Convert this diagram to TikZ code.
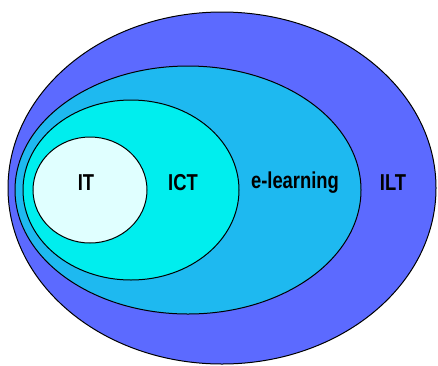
\documentclass[tikz,border=0pt]{standalone}
\usepackage{fontspec}
\setmainfont{Liberation Sans}
\definecolor{iltblue}{RGB}{92,106,255}
\definecolor{elearnblue}{RGB}{30,185,240}
\definecolor{ictcyan}{RGB}{0,238,238}
\definecolor{itcyan}{RGB}{224,255,255}
\tikzset{setlabel/.style={font=\bfseries\fontsize{23}{23}\selectfont, inner sep=0pt}}
\newcommand{\setname}[1]{\scalebox{0.8}[1]{#1}}

\begin{document}
\begin{tikzpicture}[x=1pt, y=-1pt]
			\useasboundingbox (0, 0) rectangle (438, 365);
			%%%%% START %%%%%
			
			\draw[line width=1pt, fill=iltblue] (222, 188) ellipse (214 and 176);
			\draw[line width=1pt, fill=elearnblue] (188, 190) ellipse (173 and 124);
			\draw[line width=1pt, fill=ictcyan] (131, 190) ellipse (108 and 90);
			\draw[line width=1pt, fill=itcyan] (90, 190) ellipse (57 and 53);
			
			\node[setlabel] (it) at (86, 183) {\setname{IT}};
			\node[setlabel] (ict) at (183, 183) {\setname{ICT}};
			\node[setlabel] (elearning) at (295, 183) {\setname{e-learning}};
			\node[setlabel] (ilt) at (393, 183) {\setname{ILT}};
			
			%%%%% END %%%%%
\end{tikzpicture}
\end{document}
